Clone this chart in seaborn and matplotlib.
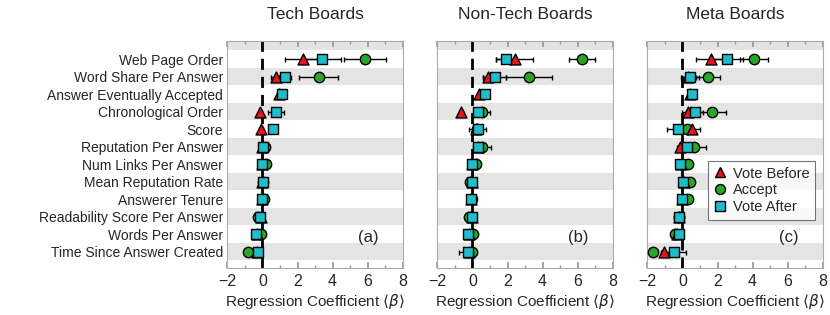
import matplotlib
import numpy as np

matplotlib.use("Agg")
import matplotlib.pyplot as plt  # noqa: E402
import matplotlib.ticker  # noqa: E402
import pandas as pd
import seaborn as sns

features = [
    "Web Page Order",
    "Word Share Per Answer",
    "Answer Eventually Accepted",
    "Chronological Order",
    "Score",
    "Reputation Per Answer",
    "Num Links Per Answer",
    "Mean Reputation Rate",
    "Answerer Tenure",
    "Readability Score Per Answer",
    "Words Per Answer",
    "Time Since Answer Created",
]
panels = ["Tech Boards", "Non-Tech Boards", "Meta Boards"]
panel_tags = ["(a)", "(b)", "(c)"]
models = ["Vote Before", "Accept", "Vote After"]

nan = np.nan
# coefficients, one list per (board, model), rows in feature order
tech_vote_before = [2.3, 0.8, 0.95, -0.12, -0.07, 0.0, 0.0, 0.0, 0.0, -0.1, -0.3, -0.3]
tech_accept = [5.85, 3.2, nan, nan, nan, 0.15, 0.2, 0.05, 0.08, -0.25, -0.07, -0.8]
tech_vote_after = [3.4, 1.3, 1.12, 0.78, 0.59, 0.02, -0.02, 0.03, 0.0, -0.12, -0.36, -0.27]
tech_vote_before_err = [1.0, 0.3, 0.1, 0.1, 0.1, 0.1, 0.1, 0.1, 0.1, 0.1, 0.1, 0.1]
tech_accept_err = [1.2, 1.1, nan, nan, nan, 0.1, 0.1, 0.1, 0.1, 0.1, 0.1, 0.15]
tech_vote_after_err = [1.1, 0.35, 0.15, 0.45, 0.15, 0.1, 0.1, 0.1, 0.1, 0.1, 0.1, 0.2]

nontech_vote_before = [2.4, 0.9, 0.4, -0.65, 0.2, 0.3, 0.0, 0.0, -0.1, 0.0, -0.2, -0.2]
nontech_accept = [6.25, 3.22, nan, 0.53, 0.25, 0.55, 0.2, -0.15, -0.05, -0.2, 0.05, 0.0]
nontech_vote_after = [1.9, 1.26, 0.72, 0.34, 0.3, 0.32, 0.0, 0.0, -0.1, 0.0, -0.27, -0.27]
nontech_vote_before_err = [1.05, 0.3, 0.1, 0.1, 0.1, 0.1, 0.1, 0.1, 0.1, 0.1, 0.1, 0.1]
nontech_accept_err = [0.75, 1.3, nan, 0.45, 0.1, 0.5, 0.1, 0.1, 0.1, 0.1, 0.1, 0.1]
nontech_vote_after_err = [0.55, 0.65, 0.12, 0.15, 0.5, 0.15, 0.1, 0.12, 0.1, 0.12, 0.1, 0.5]

meta_vote_before = [1.65, 0.3, 0.45, 0.33, 0.52, -0.15, -0.1, 0.1, 0.0, -0.2, -0.3, -1.06]
meta_accept = [4.1, 1.47, nan, 1.66, 0.29, 0.67, 0.3, 0.42, 0.3, -0.2, -0.4, -1.68]
meta_vote_after = [2.55, 0.43, 0.52, 0.71, -0.24, 0.24, -0.12, 0.05, 0.0, -0.2, -0.2, -0.47]
meta_vote_before_err = [0.9, 0.3, 0.1, 0.35, 0.5, 0.15, 0.1, 0.1, 0.1, 0.1, 0.1, 0.15]
meta_accept_err = [0.8, 0.7, nan, 0.8, 0.3, 0.65, 0.1, 0.15, 0.1, 0.1, 0.1, 0.15]
meta_vote_after_err = [0.9, 0.5, 0.12, 0.45, 0.63, 0.3, 0.12, 0.1, 0.1, 0.3, 0.1, 0.7]

board_data = [
    (tech_vote_before, tech_accept, tech_vote_after,
     tech_vote_before_err, tech_accept_err, tech_vote_after_err),
    (nontech_vote_before, nontech_accept, nontech_vote_after,
     nontech_vote_before_err, nontech_accept_err, nontech_vote_after_err),
    (meta_vote_before, meta_accept, meta_vote_after,
     meta_vote_before_err, meta_accept_err, meta_vote_after_err),
]

rows = []
for board, vals in zip(panels, board_data):
    coefs, errs = vals[:3], vals[3:]
    for m, c, e in zip(models, coefs, errs):
        for i, f in enumerate(features):
            rows.append({"board": board, "model": m, "feature": f, "pos": i,
                         "coef": c[i], "err": e[i]})
df = pd.DataFrame(rows)

styles = {
    "Vote Before": dict(marker="^", color="#e8141c", size=62, ms=7.6),
    "Accept": dict(marker="o", color="#2aa52a", size=56, ms=7.2),
    "Vote After": dict(marker="s", color="#1fbdcb", size=52, ms=7.0),
}
draw_order = ["Accept", "Vote Before", "Vote After"]

sns.set_theme(style="white")
plt.rcParams["font.family"] = ["Liberation Sans", "DejaVu Sans"]
plt.rcParams["mathtext.fontset"] = "dejavusans"

fig = plt.figure(figsize=(8.3, 3.15), dpi=100)
lefts = [227.3, 437.3, 647.3]
W, H = 830.0, 315.0

for k, (board, tag) in enumerate(zip(panels, panel_tags)):
    ax = fig.add_axes([lefts[k] / W, 1 - 268.3 / H, 175.5 / W, 227.3 / H])
    sub = df[df["board"] == board]

    # alternating row stripes
    for i in range(-1, len(features) + 1):
        if i % 2 == 1 or i == -1:
            ax.axhspan(i - 0.5, i + 0.5, color="#e4e4e4", lw=0, zorder=0)

    ax.axvline(0, color="black", lw=2.0, ls=(0, (4, 2.5)), zorder=2)

    for m in draw_order:
        d = sub[sub["model"] == m].dropna(subset=["coef"])
        st = styles[m]
        ax.errorbar(d["coef"], d["pos"], xerr=d["err"], fmt="none",
                    ecolor="black", elinewidth=1.0, capsize=1.8, capthick=1.0, zorder=3)
        sns.scatterplot(x=d["coef"].values, y=d["pos"].values, marker=st["marker"],
                        color=st["color"], s=st["size"], edgecolor="black",
                        linewidth=1.0, ax=ax, zorder=4, legend=False)

    ax.set_xlim(-2, 8)
    ax.set_ylim(11.95, -1.03)
    ax.xaxis.set_major_locator(matplotlib.ticker.MultipleLocator(2))
    ax.xaxis.set_minor_locator(matplotlib.ticker.MultipleLocator(1))
    ax.tick_params(axis="x", which="both", direction="in", top=True, bottom=True,
                   color="#999999", labelsize=11.5, pad=4)
    ax.tick_params(axis="x", which="major", length=4)
    ax.tick_params(axis="x", which="minor", length=2.5)
    ax.set_yticks(range(len(features)))
    if k == 0:
        ax.set_yticklabels(features, fontsize=10)
    else:
        ax.set_yticklabels([])
    ax.tick_params(axis="y", length=0, pad=3)
    for sp in ax.spines.values():
        sp.set_color("#aaaaaa")
        sp.set_linewidth(0.8)
    ax.set_xlabel(r"Regression Coefficient $\langle\beta\rangle$", fontsize=11, labelpad=2)
    ax.set_title(board, fontsize=12.5, pad=16)
    ax.text(0.805, 0.135, tag, transform=ax.transAxes, fontsize=12,
            ha="center", va="center")

    if k == 2:
        handles = [
            plt.Line2D([], [], ls="none", marker=styles[m]["marker"],
                       markerfacecolor=styles[m]["color"], markeredgecolor="black",
                       markersize=styles[m]["ms"])
            for m in models
        ]
        leg = ax.legend(handles, models, loc="upper left",
                        bbox_to_anchor=(0.345, 0.47), fontsize=10.5,
                        frameon=True, fancybox=False, handletextpad=0.4,
                        borderpad=0.35, labelspacing=0.2, handlelength=1.0,
                        borderaxespad=0)
        leg.get_frame().set_edgecolor("#555555")
        leg.get_frame().set_linewidth(0.8)

fig.savefig("out.png", dpi=100)
plt.close(fig)
